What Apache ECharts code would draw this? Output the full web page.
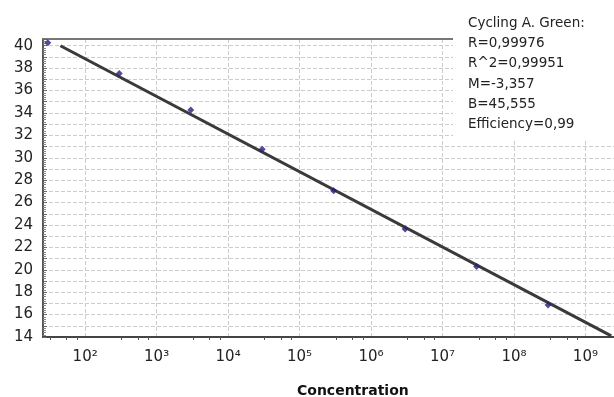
<!DOCTYPE html>
<html>
<head>
<meta charset="utf-8">
<script src="https://cdn.jsdelivr.net/npm/echarts@6/dist/echarts.min.js"></script>
<style>
  html, body { margin: 0; padding: 0; background: #fff; }
  #chart { width: 614px; height: 397px; }
</style>
</head>
<body>
<div id="chart"></div>
<script>
// standard curve data
const concentration = [30, 300, 3e3, 3e4, 3e5, 3e6, 3e7, 3e8]
const ctValues = [40.26, 37.53, 34.26, 30.75, 27.06, 23.64, 20.3, 16.86]
// fitted line end points
const fitLine = [[45, 40.0], [2.3e9, 14.1]]
const statsLines = [
  "Cycling A. Green:",
  "R=0,99976",
  "R^2=0,99951",
  "M=-3,357",
  "B=45,555",
  "Efficiency=0,99",
]

const FONT = "DejaVu Sans"
const sup = { "0": "⁰", "1": "¹", "2": "²", "3": "³", "4": "⁴", "5": "⁵", "6": "⁶", "7": "⁷", "8": "⁸", "9": "⁹" }

function powLabel(v) {
  let e = Math.log10(v)
  if (Math.abs(e - Math.round(e)) > 0.01) return ""
  return "10" + String(Math.round(e)).split("").map((c) => sup[c]).join("")
}

let myChart = echarts.init(document.getElementById("chart"))
myChart.setOption({
  animation: false,
  grid: { left: 43, right: 0, top: 39, bottom: 60 },
  xAxis: [
    {
      type: "log",
      logBase: 10,
      min: Math.pow(10, 1.41),
      max: Math.pow(10, 9.4),
      axisLine: { show: true, lineStyle: { color: "#444", width: 2 } },
      axisTick: { show: false },
      minorTick: { show: true, splitNumber: 4, length: 3, lineStyle: { color: "#555" } },
      axisLabel: {
        formatter: powLabel,
        showMinLabel: false,
        showMaxLabel: false,
        color: "#222",
        fontFamily: FONT,
        fontSize: 15,
        margin: 13,
      },
      splitLine: { show: true, lineStyle: { color: "#ccc", type: "dashed" } },
    },
    {
      type: "log",
      position: "top",
      min: Math.pow(10, 1.41),
      max: Math.pow(10, 9.4),
      axisLine: { show: true, lineStyle: { color: "#777", width: 2 } },
      axisTick: { show: false },
      axisLabel: { show: false },
      splitLine: { show: false },
    },
  ],
  yAxis: {
    type: "value",
    min: 14,
    max: 40.6,
    interval: 1,
    axisLine: { show: true, lineStyle: { color: "#555", width: 2 } },
    axisTick: { show: true, inside: true, length: 4, lineStyle: { color: "#666" } },
    minorTick: { show: true, splitNumber: 5, length: 3, lineStyle: { color: "#888" } },
    axisLabel: {
      formatter: (v) => (v % 2 === 0 ? String(v) : ""),
      showMaxLabel: false,
      color: "#222",
      fontFamily: FONT,
      fontSize: 15,
      margin: 10,
    },
    splitLine: { show: true, lineStyle: { color: "#ccc", type: "dashed" } },
  },
  series: [
    {
      type: "line",
      data: fitLine,
      symbol: "none",
      lineStyle: { color: "#3a3a3a", width: 3 },
      z: 3,
    },
    {
      type: "scatter",
      data: concentration.map((c, i) => [c, ctValues[i]]),
      symbol: "diamond",
      symbolSize: 7,
      itemStyle: { color: "#23207a" },
      z: 4,
    },
  ],
  graphic: [
    {
      type: "rect",
      z: 100,
      shape: { x: 453, y: 0, width: 161, height: 141 },
      style: { fill: "#fff" },
    },
    {
      type: "text",
      z: 101,
      left: 468,
      top: 13,
      style: {
        text: statsLines.join("\n"),
        font: "13.5px '" + FONT + "'",
        lineHeight: 20.3,
        fill: "#222",
      },
    },
    {
      type: "text",
      z: 101,
      left: 297,
      top: 384,
      style: {
        text: "Concentration",
        font: "bold 14px '" + FONT + "'",
        fill: "#111",
      },
    },
  ],
})
</script>
</body>
</html>
